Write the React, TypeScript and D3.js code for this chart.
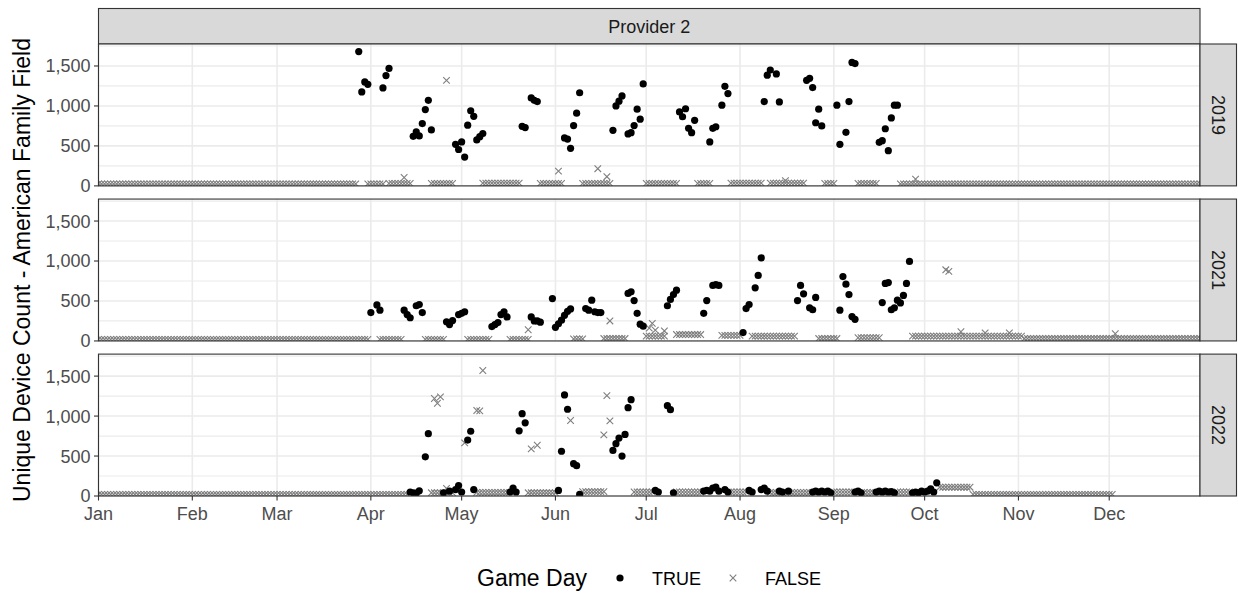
import * as d3 from "d3";

const YEARS = ["2019", "2021", "2022"];
const MONTH_LABELS = ["Jan", "Feb", "Mar", "Apr", "May", "Jun", "Jul", "Aug", "Sep", "Oct", "Nov", "Dec"];
const Y_TICKS = [0, 500, 1000, 1500];
const Y_MINOR = [250, 750, 1250, 1750];

// game days: [day of year (0 = Jan 1), unique device count]
const game2019: [number, number][] = [
  [86, 1680], [87, 1175], [88, 1300], [89, 1270], [94, 1225], [95, 1380], [96, 1470],
  [104, 620], [105, 675], [106, 625], [107, 780], [108, 955], [109, 1070], [110, 700],
  [118, 520], [119, 455], [120, 550], [121, 360], [122, 760], [123, 940], [124, 870], [125, 575], [126, 615], [127, 655],
  [140, 745], [141, 730], [143, 1100], [144, 1070], [145, 1055],
  [154, 600], [155, 585], [156, 470], [157, 755], [158, 910], [159, 1165],
  [170, 695], [171, 1000], [172, 1060], [173, 1125], [175, 650], [176, 665], [177, 755], [178, 960], [179, 835], [180, 1275],
  [192, 925], [193, 865], [194, 965], [195, 720], [196, 665], [197, 820],
  [202, 550], [203, 720], [204, 740], [206, 1010], [207, 1245], [208, 1155],
  [220, 1055], [221, 1385], [222, 1450], [224, 1400], [225, 1050],
  [234, 1320], [235, 1345], [236, 1230], [237, 790], [238, 960], [239, 750],
  [244, 1010], [245, 520], [247, 670], [248, 1055], [249, 1545], [250, 1530],
  [258, 545], [259, 565], [260, 715], [261, 440], [262, 850], [263, 1010], [264, 1010],
];

const game2021: [number, number][] = [
  [90, 355], [92, 450], [93, 385],
  [101, 385], [102, 330], [103, 290], [105, 440], [106, 455], [107, 355],
  [115, 240], [116, 205], [117, 255], [119, 330], [120, 345], [121, 365],
  [130, 180], [131, 205], [132, 230], [133, 330], [134, 365], [135, 300],
  [143, 300], [144, 250], [145, 250], [146, 235],
  [150, 530], [151, 170], [152, 215], [153, 260], [154, 320], [155, 370], [156, 400],
  [161, 405], [162, 385], [163, 510], [164, 365], [165, 355], [166, 355],
  [175, 595], [176, 615], [177, 505], [178, 345], [179, 210], [180, 185],
  [188, 440], [189, 520], [190, 580], [191, 635],
  [200, 345], [201, 505], [203, 695], [204, 705], [205, 695],
  [213, 105], [214, 405], [215, 455], [217, 665], [218, 820], [219, 1040],
  [231, 505], [232, 695], [233, 590], [235, 415], [236, 390], [237, 545],
  [245, 385], [246, 805], [247, 710], [248, 580], [249, 305], [250, 270],
  [259, 480], [260, 720], [261, 730], [262, 390], [263, 415], [264, 510], [265, 475], [266, 570], [267, 720], [268, 995],
];

const game2022: [number, number][] = [
  [103, 50], [104, 40], [105, 35], [106, 65], [108, 490], [109, 780],
  [114, 40], [116, 60], [118, 80], [119, 130], [120, 50], [122, 700], [123, 810], [124, 80],
  [136, 50], [137, 100], [138, 50], [139, 815], [140, 1030], [141, 915],
  [152, 70], [153, 560], [154, 1265], [155, 1085], [157, 405], [158, 380], [159, 20],
  [170, 570], [171, 655], [172, 725], [173, 500], [174, 770], [175, 1105], [176, 1205],
  [184, 70], [185, 50], [188, 1130], [189, 1080], [190, 40],
  [200, 60], [201, 70], [202, 60], [203, 100], [204, 110], [205, 60], [207, 80], [208, 50],
  [215, 70], [216, 50], [219, 80], [220, 100], [221, 60], [225, 60], [226, 50], [228, 60],
  [236, 50], [237, 60], [238, 50], [239, 60], [240, 50], [241, 60], [242, 40],
  [250, 50], [251, 60], [252, 40], [257, 50], [258, 60], [259, 50], [260, 60], [261, 50], [262, 55], [263, 40],
  [269, 40], [270, 50], [271, 40], [272, 60], [273, 50], [274, 60], [275, 90], [276, 50], [277, 165],
];

// non-game days that stand out from the floor
const other2019: [number, number][] = [
  [101, 105], [115, 1320], [152, 185], [165, 215], [168, 115], [227, 65], [270, 85],
];
const other2021: [number, number][] = [
  [142, 140], [169, 250], [182, 160], [183, 220], [184, 135], [187, 125],
  [280, 890], [281, 870], [285, 115], [293, 100], [301, 100], [336, 90],
];
const other2022: [number, number][] = [
  [111, 1220], [112, 1160], [113, 1240], [121, 665], [125, 1070], [126, 1065], [127, 1570],
  [143, 590], [145, 635], [156, 945], [167, 765], [168, 1255], [169, 940], [115, 95],
];

// runs of non-game days at the floor: [first day, last day, count]
const floor2019: [number, number, number][] = [
  [0, 85, 25], [89, 94, 25], [96, 103, 30], [110, 117, 30], [127, 139, 35], [146, 153, 30],
  [160, 169, 30], [181, 191, 30], [198, 202, 30], [209, 219, 35], [222, 233, 35],
  [240, 243, 30], [251, 257, 30], [265, 364, 25],
];
const floor2021: [number, number, number][] = [
  [0, 89, 20], [93, 100, 20], [108, 114, 20], [122, 129, 20], [136, 142, 20], [157, 160, 25],
  [167, 174, 30], [181, 187, 60], [191, 199, 80], [206, 212, 70], [216, 230, 60],
  [238, 244, 30], [251, 258, 40], [269, 305, 60], [306, 364, 30],
];
const floor2022: [number, number, number][] = [
  [0, 102, 20], [110, 117, 40], [125, 135, 45], [142, 151, 40], [160, 167, 55], [177, 183, 50],
  [191, 199, 50], [209, 214, 50], [222, 235, 45], [243, 249, 50], [253, 256, 45],
  [264, 268, 50], [278, 288, 110], [289, 335, 20],
];

const gameByYear = { "2019": game2019, "2021": game2021, "2022": game2022 };
const otherByYear = { "2019": other2019, "2021": other2021, "2022": other2022 };
const floorByYear = { "2019": floor2019, "2021": floor2021, "2022": floor2022 };

const width = 1238,
  height = 594,
  left = 98.5,
  right = 1200,
  top = 44,
  bottom = 496,
  font = "'Liberation Sans', Arial, sans-serif";

const day = (d: number) => new Date(Date.UTC(2019, 0, 1 + d));

const crossPath = "M-3.3,-3.3L3.3,3.3M-3.3,3.3L3.3,-3.3";

export default function App() {
  const x = d3.scaleUtc().domain([day(0), day(364)]).range([left, right]);
  const rows = d3.scaleBand().domain(YEARS).range([top, bottom]).paddingInner(0.085);
  const monthTicks = d3.utcMonth.range(day(0), day(365));

  return (
    <svg
      width={width}
      height={height}
      style={{ position: "absolute", left: 0, top: 0, background: "#fff" }}
      fontFamily={font}
    >
      {/* top strip */}
      <rect x={left} y={8.5} width={right - left} height={top - 8.5} fill="#D9D9D9" stroke="#333" strokeWidth={1.1} />
      <text x={(left + right) / 2} y={32.5} textAnchor="middle" fontSize={18} fill="#1A1A1A">Provider 2</text>

      {YEARS.map((yr) => {
        const y0 = rows(yr)!;
        const h = rows.bandwidth();
        const y = d3.scaleLinear().domain([0, 1775]).range([y0 + h, y0]);
        const floors = floorByYear[yr].flatMap(([a, b, v]) => d3.range(a, b + 1).map((d) => [d, v]));
        const crosses = [...floors, ...otherByYear[yr]];
        return (
          <g key={yr}>
            <defs>
              <clipPath id={`clip${yr}`}>
                <rect x={left} y={y0} width={right - left} height={h} />
              </clipPath>
            </defs>
            <rect x={left} y={y0} width={right - left} height={h} fill="#fff" />
            {Y_MINOR.map((t) => (
              <line key={"m" + t} x1={left} x2={right} y1={y(t)} y2={y(t)} stroke="#EBEBEB" strokeWidth={1.2} clipPath={`url(#clip${yr})`} />
            ))}
            {Y_TICKS.map((t) => (
              <line key={t} x1={left} x2={right} y1={y(t)} y2={y(t)} stroke="#EBEBEB" strokeWidth={1.6} />
            ))}
            {monthTicks.map((m) => (
              <line key={+m} x1={x(m)} x2={x(m)} y1={y0} y2={y0 + h} stroke="#EBEBEB" strokeWidth={1.6} />
            ))}
            <g clipPath={`url(#clip${yr})`}>
              {crosses.map(([d, v], i) => (
                <path key={"x" + i} d={crossPath} transform={`translate(${x(day(d))},${y(v)})`} stroke="#7F7F7F" strokeWidth={1.1} fill="none" />
              ))}
              {gameByYear[yr].map(([d, v], i) => (
                <circle key={"g" + i} cx={x(day(d))} cy={y(v)} r={3.6} fill="#000" />
              ))}
            </g>
            <rect x={left} y={y0} width={right - left} height={h} fill="none" stroke="#333" strokeWidth={1.1} />
            {/* y axis */}
            {Y_TICKS.map((t) => (
              <g key={"t" + t}>
                <line x1={left - 4.5} x2={left} y1={y(t)} y2={y(t)} stroke="#333" strokeWidth={1.1} />
                <text x={left - 8} y={y(t)} dy="0.36em" textAnchor="end" fontSize={18} fill="#4D4D4D">
                  {d3.format(",")(t)}
                </text>
              </g>
            ))}
            {/* right strip */}
            <rect x={right} y={y0} width={1236.5 - right} height={h} fill="#D9D9D9" stroke="#333" strokeWidth={1.1} />
            <text
              transform={`translate(${(right + 1236.5) / 2},${y0 + h / 2}) rotate(90)`}
              textAnchor="middle"
              dy="0.36em"
              fontSize={18}
              fill="#1A1A1A"
            >
              {yr}
            </text>
          </g>
        );
      })}

      {/* x axis */}
      {monthTicks.map((m, i) => (
        <g key={"xa" + i}>
          <line x1={x(m)} x2={x(m)} y1={bottom} y2={bottom + 4.5} stroke="#333" strokeWidth={1.1} />
          <text x={x(m)} y={bottom + 24} textAnchor="middle" fontSize={18} fill="#4D4D4D">
            {MONTH_LABELS[i]}
          </text>
        </g>
      ))}

      {/* y title */}
      <text transform={`translate(29.5,${(top + bottom) / 2}) rotate(-90)`} textAnchor="middle" fontSize={23} fill="#000">
        Unique Device Count - American Family Field
      </text>

      {/* legend */}
      <g>
        <text x={477} y={586} fontSize={23} fill="#000">Game Day</text>
        <circle cx={620} cy={578} r={3.6} fill="#000" />
        <text x={652} y={584.5} fontSize={18} fill="#000">TRUE</text>
        <path d={crossPath} transform="translate(733,578)" stroke="#7F7F7F" strokeWidth={1.1} fill="none" />
        <text x={765} y={584.5} fontSize={18} fill="#000">FALSE</text>
      </g>
    </svg>
  );
}
